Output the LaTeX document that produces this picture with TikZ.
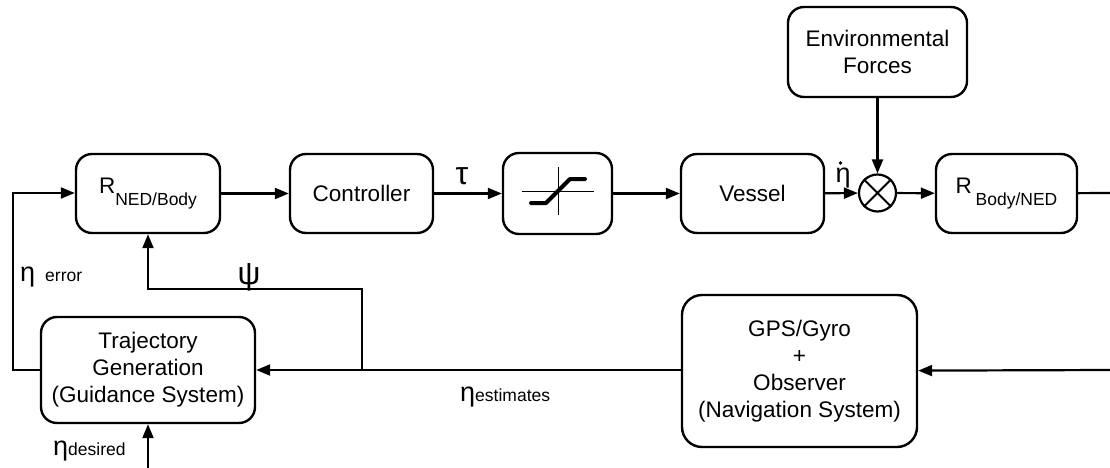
\documentclass[tikz,border=0pt]{standalone}
\usepackage{fontspec}
\setmainfont{Liberation Sans}
\usetikzlibrary{arrows.meta}
\newcommand\mainsz{\fontsize{22.5}{27}\selectfont}
\newcommand\subsz{\fontsize{17.5}{20}\selectfont}
\newcommand\grksz{\fontsize{27}{29}\selectfont}
\newcommand\bigrksz{\fontsize{32}{34}\selectfont}
\newcommand\lowsub[1]{\raisebox{-12pt}{\subsz #1}}
\begin{document}
\begin{tikzpicture}[x=1pt,y=-1pt,
  blk/.style={draw,line width=2.4pt,rounded corners=16pt,inner sep=0pt,
    align=center,font=\mainsz},
  conn/.style={line width=2.2pt},
  arr/.style={conn,-{Triangle[length=14pt,width=11pt]}},
  lbl/.style={inner sep=0pt}]
\useasboundingbox (0,0) rectangle (1110,468);

% forward path
\node[blk,minimum width=144pt,minimum height=79pt] (rned) at (148,193.5) {R\lowsub{NED/Body}};
\node[blk,minimum width=143pt,minimum height=79pt] (ctrl) at (361.5,193.5) {Controller};
\node[blk,minimum width=109pt,minimum height=81pt] (sat) at (557.5,193.5) {};
\node[blk,minimum width=143pt,minimum height=79pt] (vessel) at (752.5,193.5) {Vessel};
\node[draw,circle,line width=2.2pt,minimum size=37pt,inner sep=0pt] (sum) at (877.5,193) {};
\node[blk,minimum width=141pt,minimum height=79pt] (rbody) at (1006.5,193.5) {R\,\lowsub{Body/NED}};
\node[blk,minimum width=179pt,minimum height=90pt] (env) at (877.5,52) {Environmental\\Forces};

% feedback path
\node[blk,minimum width=214pt,minimum height=106pt] (traj) at (148,370) {Trajectory\\Generation\\(Guidance System)};
\node[blk,minimum width=235pt,minimum height=152pt,rounded corners=20pt] (gps) at (799.5,371) {GPS/Gyro\\+\\Observer\\(Navigation System)};

% cross in the summing junction
\draw[line width=2pt] (sum.45) -- (sum.225) (sum.135) -- (sum.315);

% saturation characteristic
\draw[line width=1pt] (522,191) -- (594,191) (558,167) -- (558,215);
\draw[line width=4pt,line cap=round,line join=round]
  (531,203) -- (546,203) -- (570,179) -- (585,179);

% connector way points
\coordinate (outtop) at (1110,193);
\coordinate (outbot) at (1110,370);
\coordinate (split) at (362,370);
\coordinate (psiA) at (362,289);
\coordinate (psiB) at (148,289);
\coordinate (errA) at (13,370);
\coordinate (errB) at (13,193);
\coordinate (desin) at (148,470);

% forward connectors
\draw[arr] (rned) -- (ctrl);
\draw[arr] (ctrl) -- (sat);
\draw[arr] (sat) -- (vessel);
\draw[arr] (vessel) -- (sum);
\draw[arr] (sum) -- (rbody);
\draw[arr] (env) -- (sum);
\draw[conn] (rbody) -- (outtop);

% feedback connectors
\draw[arr] (outbot) -- (gps);
\draw[arr] (gps.west |- split) -- (traj.east |- split);
\draw[arr] (split) -- (psiA) -- (psiB) -- (rned);
\draw[arr] (traj.west |- errA) -- (errA) -- (errB) -- (rned.west |- errB);
\draw[arr] (desin) -- (traj);

% signal labels
\node[lbl] (tau) at (462,176) {\bigrksz τ};
\node[lbl] (etadot) at (843,178) {\grksz η};
\fill (840.5,163) circle (1.8pt);
\node[lbl] (psi) at (249,277) {\bigrksz ψ};
\node[lbl,anchor=base west] (etaerr) at (20,281) {\grksz η\hspace{10pt}\subsz error};
\node[lbl,anchor=base west] (etaest) at (460,401) {\grksz η\subsz estimates};
\node[lbl,anchor=base west] (etades) at (53,455) {\grksz η\subsz desired};
\end{tikzpicture}
\end{document}
